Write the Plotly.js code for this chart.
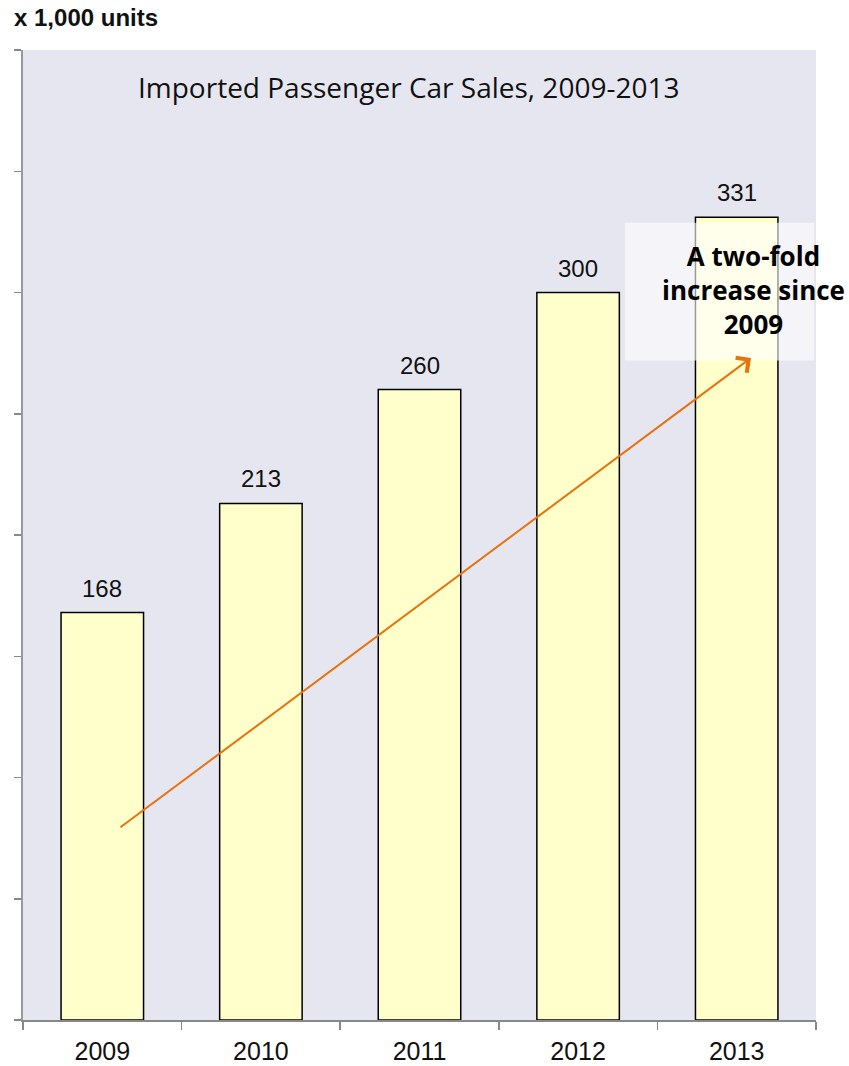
<!DOCTYPE html>
<html><head><meta charset="utf-8">
<script src="https://cdn.plot.ly/plotly-3.0.1.min.js"></script>
<style>body{margin:0;background:#fff}</style>
</head><body><div id="chart" style="width:849px;height:1066px"></div>
<script>
const years = ["2009","2010","2011","2012","2013"];
const sales = [168, 213, 260, 300, 331];
const arrowFrom = {year: "2009", value: 79};
const arrowTo = {year: "2013", value: 273};

const trace = {
  type: "bar", x: years, y: sales, width: 0.52,
  marker: {color: "#FFFFCC", line: {color: "#000", width: 1.5}},
  hoverinfo: "skip"
};

const valueLabels = years.map((yr, i) => ({
  x: i, y: sales[i], xref: "x", yref: "y", text: String(sales[i]), showarrow: false,
  yanchor: "bottom", yshift: 9,
  font: {family: "Liberation Sans, Arial", size: 24, color: "#111"}
}));

const layout = {
  width: 849, height: 1066,
  margin: {l: 23, r: 33, t: 50, b: 46},
  paper_bgcolor: "#fff", plot_bgcolor: "#E6E6F0",
  showlegend: false,
  xaxis: {type: "category", tickson: "boundaries", ticks: "outside", ticklen: 8, tickcolor: "#888", tickwidth: 1.5,
    showline: true, linecolor: "#888", linewidth: 1.5, showgrid: false, tickangle: 0, ticklabelstandoff: 8,
    tickfont: {family: "Liberation Sans, Arial", size: 25, color: "#111"}},
  yaxis: {range: [0, 400], dtick: 50, ticks: "outside", ticklen: 7, tickcolor: "#888", tickwidth: 1.5,
    showticklabels: false, showline: true, linecolor: "#999", linewidth: 2, showgrid: false, zeroline: false},
  shapes: [
    {type: "rect", xref: "paper", yref: "paper", x0: 0.759, x1: 0.9975, y0: 0.680, y1: 0.822,
     fillcolor: "rgba(255,255,255,0.6)", line: {width: 0}, layer: "above"}
  ],
  annotations: valueLabels.concat([
    {xref: "paper", yref: "paper", x: -0.014, y: 1.0, yshift: 17, xanchor: "left", yanchor: "bottom",
     text: "<b>x 1,000 units</b>", showarrow: false,
     font: {family: "Liberation Sans, Arial", size: 24, color: "#111"}},
    {xref: "paper", yref: "paper", x: 0.486, y: 0.983, xanchor: "center", yanchor: "top",
     text: "Imported Passenger Car Sales, 2009-2013", showarrow: false,
     font: {family: "Open Sans, Noto Sans", size: 28, color: "#111"}},
    {x: years.indexOf(arrowTo.year) + 0.09, y: arrowTo.value, xref: "x", yref: "y", axref: "x", ayref: "y",
     ax: years.indexOf(arrowFrom.year) + 0.105, ay: arrowFrom.value, text: "", showarrow: true,
     arrowhead: 4, arrowsize: 1.8, arrowwidth: 2, arrowcolor: "#E8720C", standoff: 0, startstandoff: 0},
    {xref: "paper", yref: "paper", x: 0.9206, y: 0.7525, xanchor: "center", yanchor: "middle",
     text: "<b>A two-fold<br>increase since<br>2009</b>", showarrow: false, align: "center",
     font: {family: "Open Sans, Noto Sans", size: 26, color: "#000"}}
  ])
};
Plotly.newPlot("chart", [trace], layout, {displayModeBar: false, staticPlot: true});
</script></body></html>
